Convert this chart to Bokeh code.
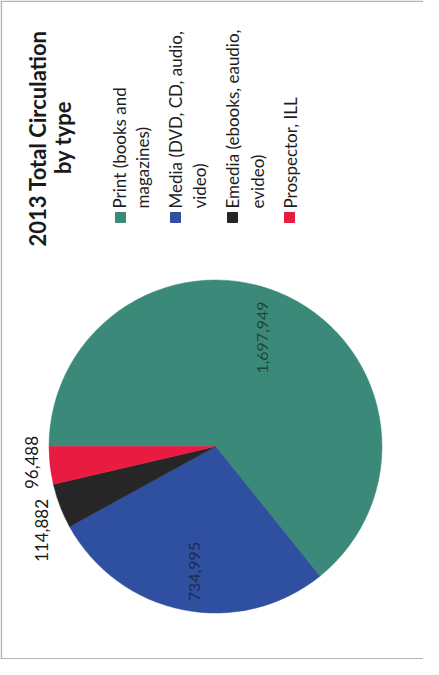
import numpy as np
from bokeh.plotting import figure
from bokeh.models import Range1d, ColumnDataSource
from bokeh.core.properties import value
from bokeh.embed import file_html
from bokeh.resources import INLINE

# ---- data ----
categories = ["Print (books and magazines)", "Media (DVD, CD, audio, video)",
              "Emedia (ebooks, eaudio, evideo)", "Prospector, ILL"]
legend_line1 = ["Print (books and", "Media (DVD, CD, audio,", "Emedia (ebooks, eaudio,", "Prospector, ILL"]
legend_line2 = ["magazines)", "video)", "evideo)", ""]
circulation = [1697949, 734995, 114882, 96488]
label_texts = ["1,697,949", "734,995", "114,882", "96,488"]
colors = ["#3b8a79", "#2f50a0", "#262626", "#ea1b40"]
title_lines = ["2013 Total Circulation", "by type"]

FONT = "Lato"
W, H = 423, 659
p = figure(width=W, height=H, x_range=Range1d(0, W), y_range=Range1d(0, H),
           x_axis_type=None, y_axis_type=None, toolbar_location=None,
           output_backend="svg", min_border=0)
p.grid.visible = False
p.outline_line_color = None
p.background_fill_color = "white"
p.border_fill_color = "white"

def fx(ix):
    return ix - 8

def fy(iy):
    return H + 8 - iy

# frame (left, top, bottom; right edge runs off the page)
p.segment(x0=[0.8, 0, 0], y0=[0, H - 0.8, 0.8], x1=[0.8, W, W], y1=[H, H - 0.8, 0.8],
          line_color="#b4b4b4", line_width=1.6)

# ---- pie ----
vals = np.array(circulation, dtype=float)
frac = vals / vals.sum()
cum = np.concatenate([[0], np.cumsum(frac)])
start = np.pi - 2 * np.pi * cum[:-1]
end = np.pi - 2 * np.pi * cum[1:]
cx, cy, R = fx(223), fy(454), 166.5
src = ColumnDataSource(dict(start=start, end=end, color=colors))
p.wedge(x=cx, y=cy, radius=R, start_angle="start", end_angle="end",
        direction="clock", fill_color="color", line_color="color",
        line_width=0.5, source=src)

# ---- data labels ----
lab_x = [fx(270), fx(202), fx(49), fx(39)]
lab_y = [fy(345), fy(579), fy(538), fy(470)]
inside = ColumnDataSource(dict(x=lab_x[:2], y=lab_y[:2], t=label_texts[:2]))
p.text(x="x", y="y", text="t", source=inside, angle=np.pi / 2,
       text_align="center", text_baseline="middle",
       text_font=value(FONT), text_font_size="16px",
       text_color="#111111", text_alpha=0.6)
outside = ColumnDataSource(dict(x=lab_x[2:], y=lab_y[2:], t=label_texts[2:]))
p.text(x="x", y="y", text="t", source=outside, angle=np.pi / 2,
       text_align="center", text_baseline="middle",
       text_font=value(FONT), text_font_size="17px",
       text_color="#1a1a1a")

# ---- title ----
p.text(x=[fx(45), fx(70)], y=[fy(146), fy(145)], text=title_lines, angle=np.pi / 2,
       text_align="center", text_baseline="middle",
       text_font=value(FONT), text_font_style="bold",
       text_font_size="22px", text_color="#1a1a1a")

# ---- legend ----
sq_x = [fx(128), fx(183), fx(240), fx(297)]
sq_y = [fy(225)] * 4
p.rect(x=sq_x, y=sq_y, width=10, height=10, fill_color=colors, line_color=colors)
l1x = [fx(127), fx(183), fx(240), fx(298)]
l2x = [fx(150), fx(207), fx(265), fx(321)]
ty = fy(216)
p.text(x=l1x, y=[ty] * 4, text=legend_line1, angle=np.pi / 2,
       text_align="left", text_baseline="middle",
       text_font=value(FONT), text_font_size="17px", text_color="#1e1e1e")
p.text(x=l2x, y=[ty] * 4, text=legend_line2, angle=np.pi / 2,
       text_align="left", text_baseline="middle",
       text_font=value(FONT), text_font_size="17px", text_color="#1e1e1e")

open("out.html", "w").write(file_html(p, INLINE))
